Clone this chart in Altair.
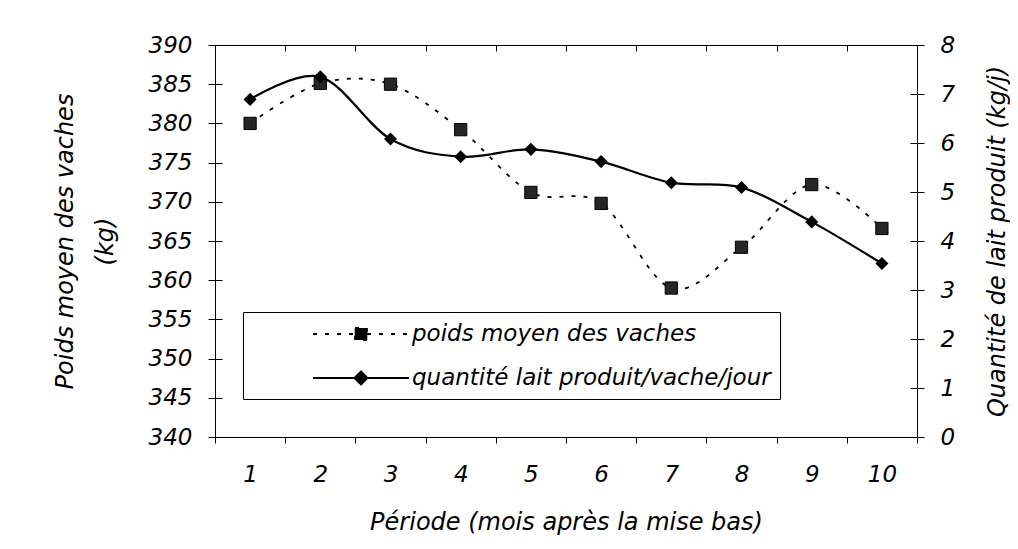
import altair as alt
import pandas as pd

# ---- data ----
periodes = [1, 2, 3, 4, 5, 6, 7, 8, 9, 10]
poids = [380.0, 385.1, 385.0, 379.2, 371.2, 369.8, 359.0, 364.2, 372.2, 366.6]
lait = [6.89, 7.35, 6.08, 5.72, 5.87, 5.62, 5.19, 5.09, 4.39, 3.54]
series = ["poids moyen des vaches", "quantité lait produit/vache/jour"]
poids_ticks = [340, 345, 350, 355, 360, 365, 370, 375, 380, 385, 390]
lait_ticks = [0, 1, 2, 3, 4, 5, 6, 7, 8]

df = pd.DataFrame({"periode": periodes, "poids": poids, "lait": lait})
leg_df = pd.DataFrame({"serie": series})

FONT = "DejaVu Sans"
W, H = 702, 392

x_enc = alt.X(
    "periode:O",
    bandPosition=0.5,
    scale=alt.Scale(type="band", paddingInner=0, paddingOuter=0),
    axis=alt.Axis(
        title="Période (mois après la mise bas)",
        labelAngle=0,
        tickBand="extent",
        tickSize=6,
        labelPadding=20,
        grid=True,
        gridDash=[6, 1000],
        gridColor="black",
        titleX=W / 2,
        titleY=92,
        titleAlign="center",
        titleBaseline="alphabetic",
    ),
)

y_poids = alt.Y(
    "poids:Q",
    scale=alt.Scale(domain=[340, 390], nice=False, zero=False),
    axis=alt.Axis(
        orient="left",
        values=poids_ticks,
        title=["Poids moyen des vaches", "(kg)"],
        tickSize=7,
        labelPadding=16,
        grid=True,
        gridDash=[7, 1000],
        gridColor="black",
        titleAngle=270,
        titleX=-150,
        titleY=H / 2,
        titleAlign="center",
        titleBaseline="middle",
        titleLineHeight=40,
    ),
)

y_lait = alt.Y(
    "lait:Q",
    scale=alt.Scale(domain=[0, 8], nice=False, zero=True),
    axis=alt.Axis(
        orient="right",
        values=lait_ticks,
        title="Quantité de lait produit (kg/j)",
        tickSize=7,
        labelPadding=16,
        grid=True,
        gridDash=[7, 1000],
        gridColor="black",
        titleAngle=270,
        titleX=80,
        titleY=H / 2,
        titleAlign="center",
        titleBaseline="middle",
    ),
)

base = alt.Chart(df)

line_p = base.mark_line(
    interpolate="cardinal", color="black", strokeWidth=1.8, strokeDash=[4, 8]
).encode(x=x_enc, y=y_poids)
pts_p = base.mark_point(
    shape="square", filled=True, size=150, color="#262626", opacity=1,
    stroke="black", strokeWidth=1
).encode(x=x_enc, y=y_poids)

line_l = base.mark_line(
    interpolate="cardinal", color="black", strokeWidth=2.2
).encode(x=x_enc, y=y_lait)
pts_l = base.mark_point(
    shape="diamond", filled=True, size=170, color="black", opacity=1
).encode(x=x_enc, y=y_lait)

# legend symbols: line + marker (marker solidified by short stroke segments)
sq_fill = "".join(
    f"M{cx},{y0}V{y1}"
    for cx in (-0.45, -0.3, -0.15, 0, 0.15, 0.3, 0.45)
    for (y0, y1) in ((-0.5, -0.17), (-0.17, 0.17), (0.17, 0.5))
)
sq_path = "M-4,0H-0.5M0.5,0H4M-0.5,-0.5H0.5V0.5H-0.5Z" + sq_fill
dia_fill = "".join(
    f"M0,{-r}L{r},0L0,{r}L{-r},0Z" for r in (0.42, 0.29, 0.16, 0.05)
)
dia_path = "M-4,0H-0.55M0.55,0H4M0,-0.55L0.55,0L0,0.55L-0.55,0Z" + dia_fill

leg_props = dict(
    title=None,
    orient="none",
    legendX=28,
    legendY=267,
    strokeColor="black",
    fillColor="white",
    padding=9,
    symbolSize=576,
    symbolOffset=96,
    labelOffset=38,
    rowPadding=19,
    labelFont=FONT,
    labelFontSize=23,
    labelFontStyle="italic",
    labelColor="black",
    labelLimit=600,
    symbolStrokeWidth=1.8,
    symbolStrokeColor="black",
    symbolOpacity=1,
)

leg = alt.Chart(leg_df).mark_point(
    filled=False, color="black", opacity=1, strokeWidth=1.8
).encode(
    shape=alt.Shape("serie:N", scale=alt.Scale(domain=series, range=[sq_path, dia_path]),
                    legend=alt.Legend(**leg_props)),
    strokeDash=alt.StrokeDash("serie:N", scale=alt.Scale(domain=series, range=[[4, 8], [1, 0]]),
                              legend=alt.Legend(**leg_props)),
).transform_filter("false")

chart = (
    alt.layer(alt.layer(line_p, pts_p), alt.layer(line_l, pts_l), leg)
    .resolve_scale(y="independent")
    .properties(
        width=W,
        height=H,
        autosize=alt.AutoSizeParams(type="none"),
        padding={"left": 207, "top": 37, "right": 93, "bottom": 104},
        background="white",
    )
    .configure_view(stroke="black", strokeWidth=1)
    .configure_axis(
        labelFont=FONT,
        labelFontSize=23,
        labelFontStyle="italic",
        labelColor="black",
        titleFont=FONT,
        titleFontSize=24,
        titleFontStyle="italic",
        titleFontWeight="normal",
        titleColor="black",
        domainColor="black",
        domainWidth=1,
        tickColor="black",
        tickWidth=1,
    )
)

chart.save("out.html", embed_options={"renderer": "svg", "actions": False})
